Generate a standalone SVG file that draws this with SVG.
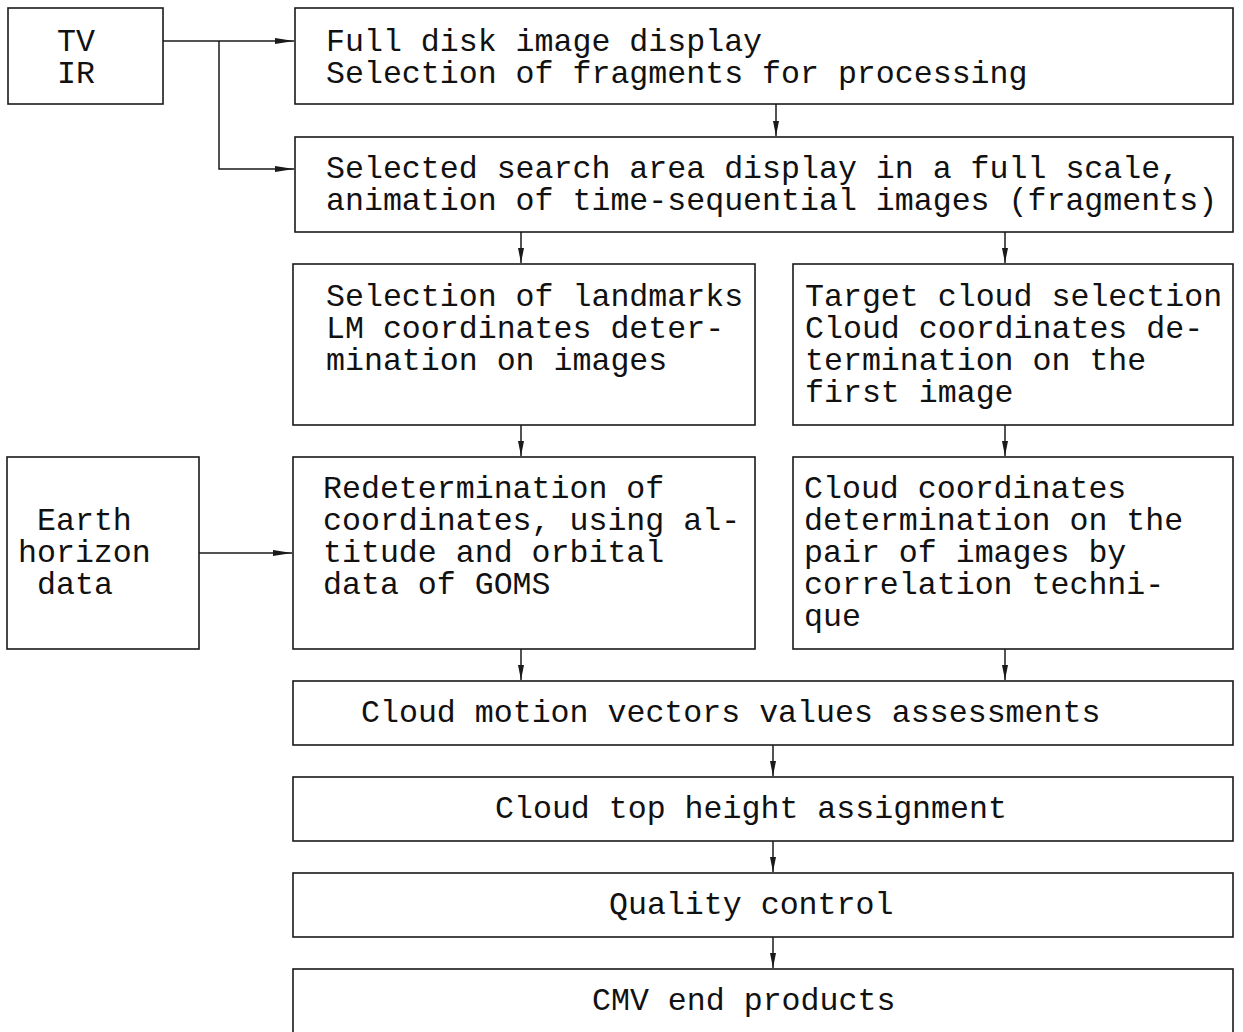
<svg xmlns="http://www.w3.org/2000/svg" width="1243" height="1032" viewBox="0 0 1243 1032">
<style>
.b{fill:#fff;stroke:#1a1a1a;stroke-width:1.6}
.c{fill:none;stroke:#1a1a1a;stroke-width:1.5}
text{font-family:"Liberation Mono","Courier New",monospace;font-size:31.6px;fill:#111}
</style>
<defs>
<marker id="ah" markerWidth="20" markerHeight="8" refX="19" refY="4" orient="auto" markerUnits="userSpaceOnUse">
<path d="M0,1 L19,4 L0,7 Z" fill="#1a1a1a"/>
</marker>
<marker id="av" markerWidth="16" markerHeight="8" refX="15" refY="4" orient="auto" markerUnits="userSpaceOnUse">
<path d="M0,1 L15,4 L0,7 Z" fill="#1a1a1a"/>
</marker>
</defs>
<g id="connectors">
<path class="c" d="M163,41 H294" marker-end="url(#ah)"/>
<path class="c" d="M219,41 V169 H294" marker-end="url(#ah)"/>
<path class="c" d="M199,553 H292" marker-end="url(#ah)"/>
<path class="c" d="M776,104 V136" marker-end="url(#av)"/>
<path class="c" d="M521,232 V263" marker-end="url(#av)"/>
<path class="c" d="M1005,232 V263" marker-end="url(#av)"/>
<path class="c" d="M521,425 V456" marker-end="url(#av)"/>
<path class="c" d="M1005,425 V456" marker-end="url(#av)"/>
<path class="c" d="M521,649 V680" marker-end="url(#av)"/>
<path class="c" d="M1005,649 V680" marker-end="url(#av)"/>
<path class="c" d="M773,745 V776" marker-end="url(#av)"/>
<path class="c" d="M773,841 V872" marker-end="url(#av)"/>
<path class="c" d="M773,937 V968" marker-end="url(#av)"/>
</g>
<g id="tvir">
<rect class="b" x="8" y="8" width="155" height="96"/>
<text x="57" y="51">TV</text>
<text x="57" y="83">IR</text>
</g>
<g id="fulldisk">
<rect class="b" x="295" y="8" width="938" height="96"/>
<text x="326" y="51">Full disk image display</text>
<text x="326" y="83">Selection of fragments for processing</text>
</g>
<g id="search">
<rect class="b" x="295" y="137" width="938" height="95"/>
<text x="326" y="178">Selected search area display in a full scale,</text>
<text x="326" y="210">animation of time-sequential images (fragments)</text>
</g>
<g id="landmarks">
<rect class="b" x="293" y="264" width="462" height="161"/>
<text x="326" y="306">Selection of landmarks</text>
<text x="326" y="338">LM coordinates deter-</text>
<text x="326" y="370">mination on images</text>
</g>
<g id="target">
<rect class="b" x="793" y="264" width="440" height="161"/>
<text x="805" y="306">Target cloud selection</text>
<text x="805" y="338">Cloud coordinates de-</text>
<text x="805" y="370">termination on the</text>
<text x="805" y="402">first image</text>
</g>
<g id="earth">
<rect class="b" x="7" y="457" width="192" height="192"/>
<text x="37" y="530">Earth</text>
<text x="18" y="562">horizon</text>
<text x="37" y="594">data</text>
</g>
<g id="redetermination">
<rect class="b" x="293" y="457" width="462" height="192"/>
<text x="323" y="498">Redetermination of</text>
<text x="323" y="530">coordinates, using al-</text>
<text x="323" y="562">titude and orbital</text>
<text x="323" y="594">data of GOMS</text>
</g>
<g id="correlation">
<rect class="b" x="793" y="457" width="440" height="192"/>
<text x="804" y="498">Cloud coordinates</text>
<text x="804" y="530">determination on the</text>
<text x="804" y="562">pair of images by</text>
<text x="804" y="594">correlation techni-</text>
<text x="804" y="626">que</text>
</g>
<g id="cmv">
<rect class="b" x="293" y="681" width="940" height="64"/>
<text x="361" y="722">Cloud motion vectors values assessments</text>
</g>
<g id="height">
<rect class="b" x="293" y="777" width="940" height="64"/>
<text x="495" y="818">Cloud top height assignment</text>
</g>
<g id="quality">
<rect class="b" x="293" y="873" width="940" height="64"/>
<text x="609" y="914">Quality control</text>
</g>
<g id="products">
<rect class="b" x="293" y="969" width="940" height="64"/>
<text x="592" y="1010">CMV end products</text>
</g>
</svg>
